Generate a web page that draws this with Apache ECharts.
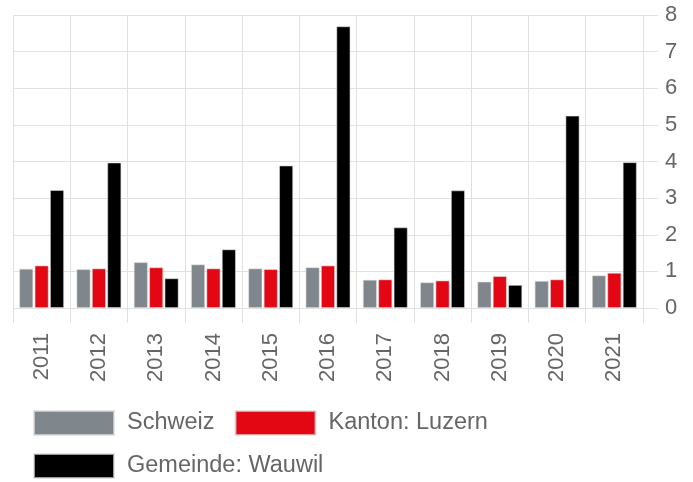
<!DOCTYPE html>
<html>
<head>
<meta charset="utf-8">
<script src="https://cdn.jsdelivr.net/npm/echarts@6/dist/echarts.min.js"></script>
<style>
html,body{margin:0;padding:0;background:#fff;}
#chart{width:693px;height:482px;}
</style>
</head>
<body>
<div id="chart"></div>
<script>
const categories = ['2011','2012','2013','2014','2015','2016','2017','2018','2019','2020','2021'];
const schweiz = [1.07, 1.06, 1.25, 1.19, 1.08, 1.11, 0.77, 0.70, 0.72, 0.74, 0.89];
const luzern  = [1.16, 1.08, 1.11, 1.08, 1.06, 1.16, 0.78, 0.75, 0.87, 0.78, 0.96];
const wauwil  = [3.22, 3.97, 0.81, 1.60, 3.89, 7.69, 2.20, 3.21, 0.63, 5.25, 3.98];
const seriesNames = ['Schweiz', 'Kanton: Luzern', 'Gemeinde: Wauwil'];
const seriesColors = ['#7f868c', '#e30613', '#000000'];

const FONT = "'Liberation Sans', Arial, sans-serif";
const gridColor = '#e0e0e0';

const chart = echarts.init(document.getElementById('chart'), null, {renderer: 'canvas'});
const data = [schweiz, luzern, wauwil];
chart.setOption({
  animation: false,
  grid: {left: 13, right: 50, top: 15, bottom: 174, containLabel: false},
  legend: {
    left: 28, top: 405, width: 520, padding: 5,
    itemWidth: 80, itemHeight: 24, itemGap: 17,
    icon: 'rect',
    textStyle: {fontFamily: FONT, fontSize: 23.5, lineHeight: 24, color: '#666', padding: [0, 3, 0, 8]},
    data: seriesNames
  },
  xAxis: {
    type: 'category',
    data: categories,
    axisLine: {show: false},
    axisTick: {show: true, length: 15, lineStyle: {color: gridColor}},
    splitLine: {show: true, lineStyle: {color: gridColor, width: 1}},
    axisLabel: {rotate: 90, margin: 25, fontFamily: FONT, fontSize: 22, color: '#666'}
  },
  yAxis: {
    type: 'value',
    position: 'right',
    min: 0, max: 8, interval: 1,
    axisLine: {show: false},
    axisTick: {show: true, length: 15, lineStyle: {color: gridColor}},
    splitLine: {show: true, lineStyle: {color: gridColor, width: 1}},
    axisLabel: {margin: 22, fontFamily: FONT, fontSize: 22, color: '#666'}
  },
  series: seriesNames.map((n, i) => ({
    name: n,
    type: 'bar',
    data: data[i],
    barWidth: 14,
    barGap: '10%',
    itemStyle: {color: seriesColors[i], borderColor: 'rgba(220,220,220,0.7)', borderWidth: 0.8}
  }))
});
</script>
</body>
</html>
